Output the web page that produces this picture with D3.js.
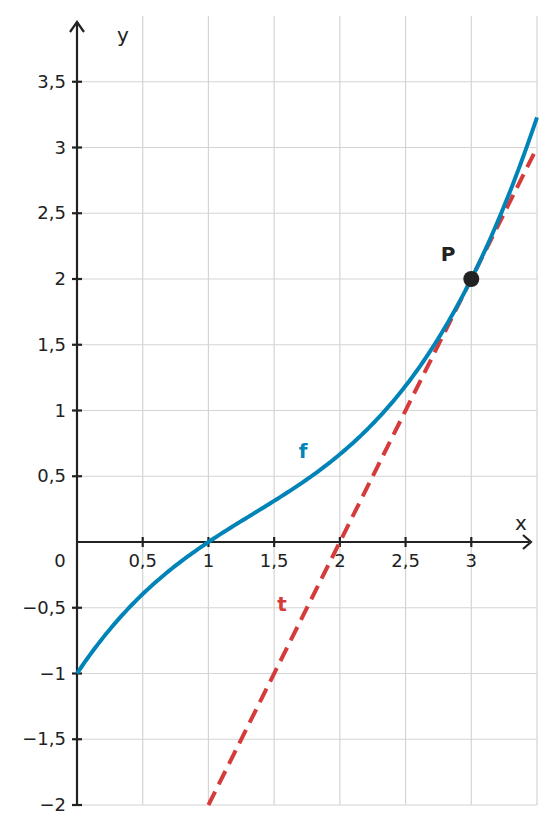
<!DOCTYPE html><html><head><meta charset="utf-8">
<script src="https://cdn.jsdelivr.net/npm/d3@7"></script>
<style>body{margin:0;background:#fff}text{font-family:"DejaVu Sans",sans-serif}</style></head><body>
<svg id="c" width="555" height="834"></svg>
<script>
const xTicks=[0.5,1,1.5,2,2.5,3];
const xTickLabels=["0,5","1","1,5","2","2,5","3"];
const yTicks=[-2,-1.5,-1,-0.5,0.5,1,1.5,2,2.5,3,3.5];
const yTickLabels=["−2","−1,5","−1","−0,5","0,5","1","1,5","2","2,5","3","3,5"];
// f(x) = a(x-1)^3 + b(x-1)^2 + c(x-1)
const fCoef=[1/6,-1/6,2/3];
const tangentLine=[[1,-2],[3.5,3]];
const pointP=[3,2];
const x=d3.scaleLinear().domain([0,3.5]).range([77,537]);
const y=d3.scaleLinear().domain([-2,4]).range([805,16]);
const svg=d3.select("#c");
const grid=svg.append("g").attr("stroke","#d4d4d4").attr("stroke-width",1.2);
[0.5,1,1.5,2,2.5,3,3.5].forEach(v=>grid.append("line").attr("x1",x(v)).attr("x2",x(v)).attr("y1",y(4)).attr("y2",y(-2)));
[-2,-1.5,-1,-0.5,0.5,1,1.5,2,2.5,3,3.5].forEach(v=>grid.append("line").attr("x1",x(0)).attr("x2",x(3.5)).attr("y1",y(v)).attr("y2",y(v)));
const ax=svg.append("g").attr("stroke","#222").attr("stroke-width",2.2);
ax.append("line").attr("x1",x(0)).attr("x2",x(3.5)-8).attr("y1",y(0)).attr("y2",y(0));
ax.append("line").attr("x1",x(0)).attr("x2",x(0)).attr("y1",y(-2)).attr("y2",y(4)+6);
svg.append("path").attr("d",`M${x(3.5)-14},${y(0)-7}L${x(3.5)-6},${y(0)}L${x(3.5)-14},${y(0)+7}`).attr("fill","none").attr("stroke","#222").attr("stroke-width",2.2);
svg.append("path").attr("d",`M${x(0)-7},${y(4)+16}L${x(0)},${y(4)+6}L${x(0)+7},${y(4)+16}`).attr("fill","none").attr("stroke","#222").attr("stroke-width",2.2);
xTicks.forEach((v,i)=>{ax.append("line").attr("x1",x(v)).attr("x2",x(v)).attr("y1",y(0)-5).attr("y2",y(0)+5);
 svg.append("text").attr("x",x(v)).attr("y",y(0)+25).attr("text-anchor","middle").attr("font-size",18).attr("fill","#222").text(xTickLabels[i]);});
yTicks.forEach((v,i)=>{ax.append("line").attr("x1",x(0)-5).attr("x2",x(0)+5).attr("y1",y(v)).attr("y2",y(v));
 svg.append("text").attr("x",x(0)-11).attr("y",y(v)+6).attr("text-anchor","end").attr("font-size",18).attr("fill","#222").text(yTickLabels[i]);});
svg.append("text").attr("x",60).attr("y",y(0)+25).attr("text-anchor","middle").attr("font-size",18).attr("fill","#222").text("0");
svg.append("text").attr("x",521).attr("y",530).attr("text-anchor","middle").attr("font-size",20).attr("fill","#222").text("x");
svg.append("text").attr("x",123).attr("y",42).attr("text-anchor","middle").attr("font-size",20).attr("fill","#222").text("y");
svg.append("path").attr("d",d3.line()(tangentLine.map(p=>[x(p[0]),y(p[1])]))).attr("stroke","#d63b3b").attr("stroke-width",4).attr("stroke-dasharray","15,8").attr("fill","none");
const f=v=>{const u=v-1;return fCoef[0]*u*u*u+fCoef[1]*u*u+fCoef[2]*u;};
const xs=d3.range(0,3.5001,0.02);
svg.append("path").attr("d",d3.line().x(d=>x(d)).y(d=>y(f(d)))(xs)).attr("stroke","#0084b8").attr("stroke-width",4).attr("fill","none");
svg.append("circle").attr("cx",x(pointP[0])).attr("cy",y(pointP[1])).attr("r",8).attr("fill","#222");
svg.append("text").attr("x",448).attr("y",261).attr("text-anchor","middle").attr("font-size",20).attr("font-weight","bold").attr("fill","#222").text("P");
svg.append("text").attr("x",303).attr("y",458).attr("text-anchor","middle").attr("font-size",20).attr("font-weight","bold").attr("fill","#0084b8").text("f");
svg.append("text").attr("x",282).attr("y",611).attr("text-anchor","middle").attr("font-size",20).attr("font-weight","bold").attr("fill","#d63b3b").text("t");
</script></body></html>
